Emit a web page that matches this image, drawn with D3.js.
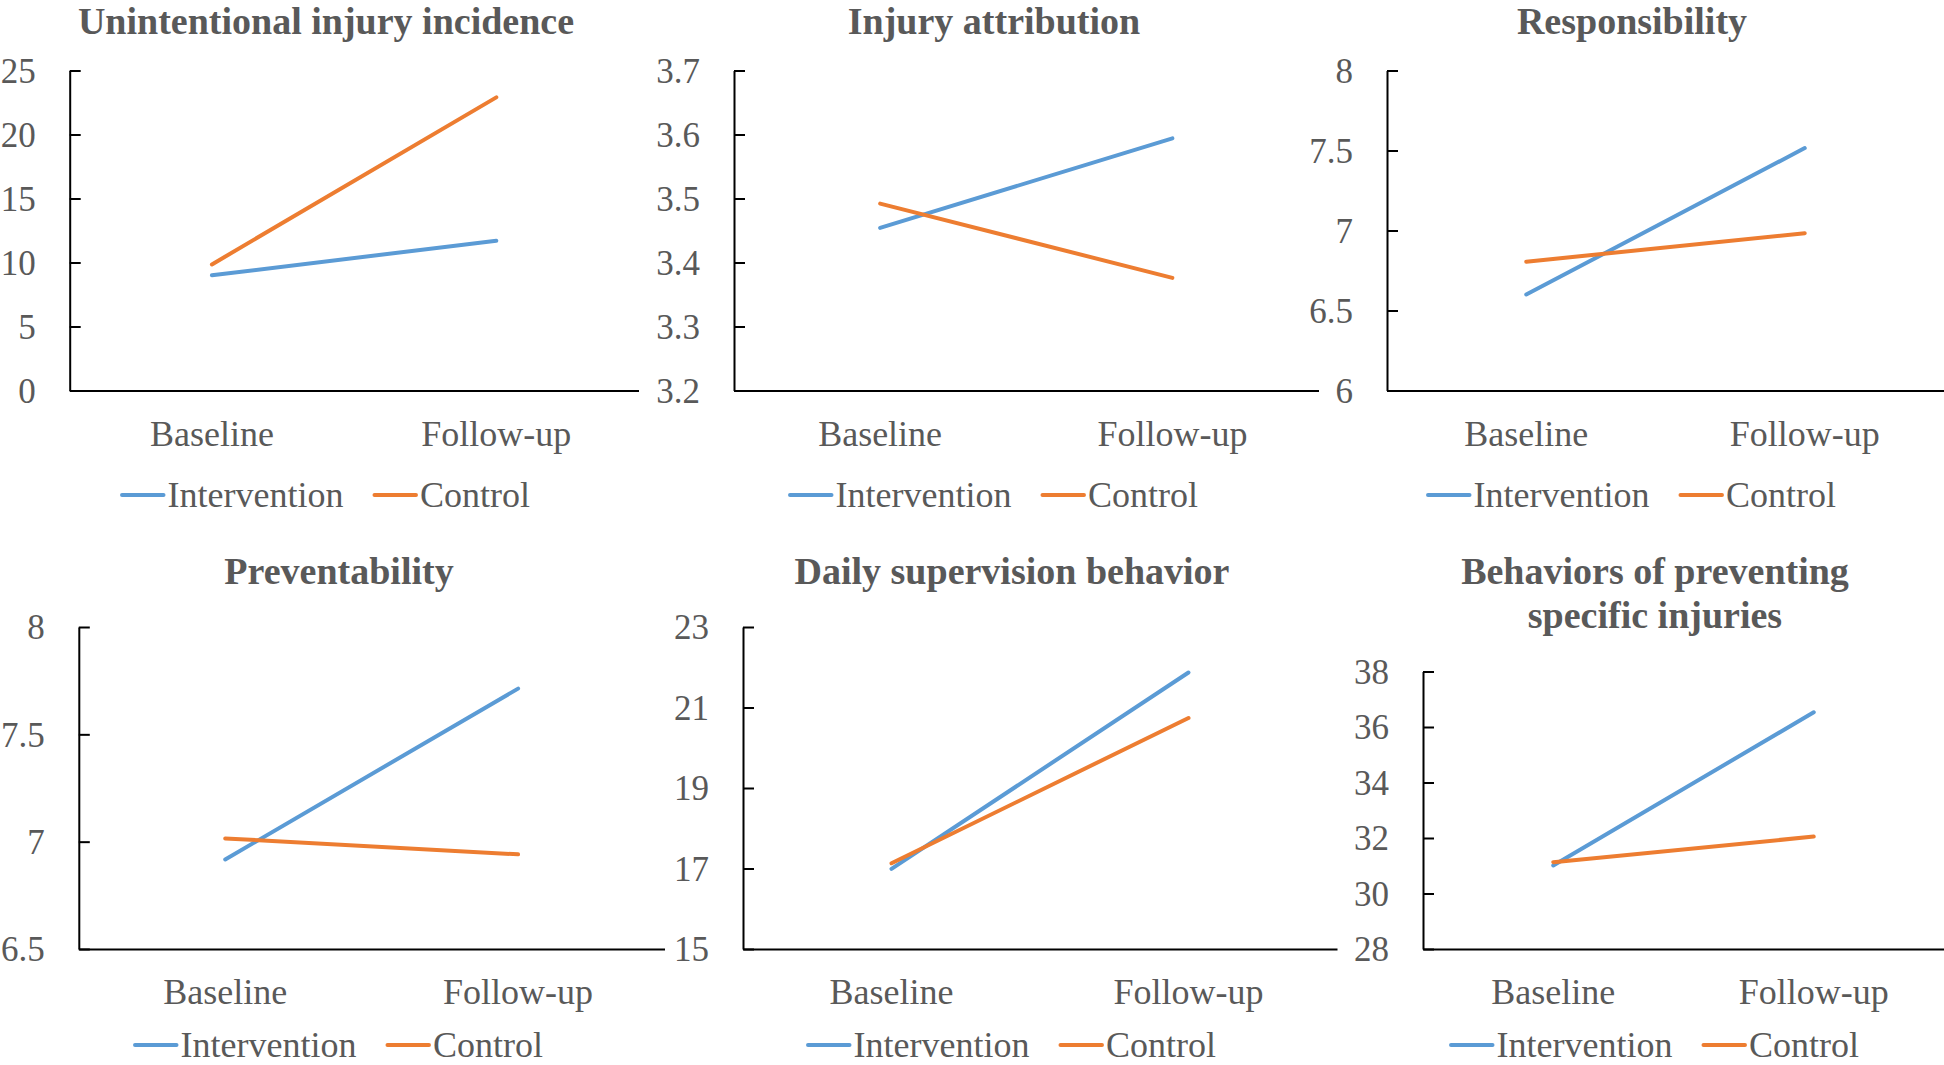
<!DOCTYPE html>
<html>
<head>
<meta charset="utf-8">
<script src="https://cdn.jsdelivr.net/npm/d3@7"></script>
<style>
  html, body { margin: 0; padding: 0; background: #ffffff; }
  svg { display: block; }
</style>
</head>
<body>
<svg id="chart" width="1944" height="1065"></svg>
<script>
// ---------------- DATA ----------------
const categories = ["Baseline", "Follow-up"];
const seriesNames = ["Intervention", "Control"];

const titles = [
  ["Unintentional injury incidence"],
  ["Injury attribution"],
  ["Responsibility"],
  ["Preventability"],
  ["Daily supervision behavior"],
  ["Behaviors of preventing", "specific injuries"]
];

const incidenceIntervention = [9.0, 11.7];
const incidenceControl      = [9.85, 22.9];
const incidenceTicks        = [0, 5, 10, 15, 20, 25];

const attributionIntervention = [3.454, 3.594];
const attributionControl      = [3.492, 3.376];
const attributionTicks        = [3.2, 3.3, 3.4, 3.5, 3.6, 3.7];

const responsibilityIntervention = [6.6, 7.515];
const responsibilityControl      = [6.805, 6.983];
const responsibilityTicks        = [6, 6.5, 7, 7.5, 8];

const preventabilityIntervention = [6.917, 7.713];
const preventabilityControl      = [7.015, 6.941];
const preventabilityTicks        = [6.5, 7, 7.5, 8];

const supervisionIntervention = [16.99, 21.87];
const supervisionControl      = [17.13, 20.74];
const supervisionTicks        = [15, 17, 19, 21, 23];

const specificIntervention = [31.01, 36.53];
const specificControl      = [31.13, 32.05];
const specificTicks        = [28, 30, 32, 34, 36, 38];

// ---------------- LAYOUT ----------------
const colors = ["#5B9BD5", "#ED7D31"];
const textColor = "#595959";
const fontFamily = "'Liberation Serif', 'Times New Roman', serif";

const panels = [
  { title: titles[0], values: [incidenceIntervention, incidenceControl], ticks: incidenceTicks,
    x0: 69.7, x1: 638.5, yTop: 70.5, yBot: 390.5, cx: 326, titleY: 34, legOff: 104.5 },
  { title: titles[1], values: [attributionIntervention, attributionControl], ticks: attributionTicks,
    x0: 734, x1: 1318.5, yTop: 70.5, yBot: 390.5, cx: 994, titleY: 34, legOff: 104.5 },
  { title: titles[2], values: [responsibilityIntervention, responsibilityControl], ticks: responsibilityTicks,
    x0: 1387, x1: 1944, yTop: 70.5, yBot: 390.5, cx: 1632, titleY: 34, legOff: 104.5 },
  { title: titles[3], values: [preventabilityIntervention, preventabilityControl], ticks: preventabilityTicks,
    x0: 78.8, x1: 664.5, yTop: 627, yBot: 949, cx: 339, titleY: 584, legOff: 96 },
  { title: titles[4], values: [supervisionIntervention, supervisionControl], ticks: supervisionTicks,
    x0: 743, x1: 1337, yTop: 627, yBot: 949, cx: 1012, titleY: 584, legOff: 96 },
  { title: titles[5], values: [specificIntervention, specificControl], ticks: specificTicks,
    x0: 1423, x1: 1944, yTop: 671.5, yBot: 949, cx: 1655, titleY: 584, legOff: 96 }
];

const svg = d3.select("#chart");

panels.forEach(p => {
  const g = svg.append("g");

  const x = d3.scaleBand().domain(categories).range([p.x0, p.x1]).paddingInner(0).paddingOuter(0);
  const y = d3.scaleLinear().domain([d3.min(p.ticks), d3.max(p.ticks)]).range([p.yBot, p.yTop]);

  // Y axis (inside ticks to the right)
  const yAxis = d3.axisLeft(y)
    .tickValues(p.ticks)
    .tickFormat(d => String(d))
    .tickSizeInner(-11)
    .tickSizeOuter(0)
    .tickPadding(34);
  const yg = g.append("g").attr("transform", `translate(${p.x0},0)`).call(yAxis);
  yg.select(".domain").attr("stroke", "#000").attr("stroke-width", 2);
  yg.selectAll(".tick line").attr("stroke", "#000").attr("stroke-width", 2);
  yg.selectAll(".tick text")
    .attr("fill", textColor)
    .attr("font-family", fontFamily)
    .attr("font-size", 35)
    .attr("dy", "0.34em");

  // X axis
  const xAxis = d3.axisBottom(x).tickSize(0).tickSizeOuter(0);
  const xg = g.append("g").attr("transform", `translate(0,${p.yBot})`).call(xAxis);
  xg.select(".domain").attr("stroke", "#000").attr("stroke-width", 2);
  xg.selectAll(".tick text")
    .attr("fill", textColor)
    .attr("font-family", fontFamily)
    .attr("font-size", 36)
    .attr("y", 55)
    .attr("dy", 0);

  // Lines
  const line = d3.line()
    .x((d, i) => x(categories[i]) + x.bandwidth() / 2)
    .y(d => y(d));
  p.values.forEach((vals, si) => {
    g.append("path")
      .datum(vals)
      .attr("d", line)
      .attr("fill", "none")
      .attr("stroke", colors[si])
      .attr("stroke-width", 4)
      .attr("stroke-linecap", "round");
  });

  // Title
  const t = g.append("text")
    .attr("x", p.cx)
    .attr("y", p.titleY)
    .attr("text-anchor", "middle")
    .attr("font-family", fontFamily)
    .attr("font-weight", "bold")
    .attr("font-size", 38)
    .attr("fill", textColor);
  p.title.forEach((ln, i) => {
    t.append("tspan").attr("x", p.cx).attr("dy", i === 0 ? 0 : 44).text(ln);
  });

  // Legend
  const legY = p.yBot + p.legOff;
  const lg = g.append("g");
  let cursor = 0;
  seriesNames.forEach((name, si) => {
    const ig = lg.append("g");
    ig.append("line")
      .attr("x1", cursor).attr("x2", cursor + 41.5)
      .attr("y1", legY).attr("y2", legY)
      .attr("stroke", colors[si]).attr("stroke-width", 4).attr("stroke-linecap", "round");
    const tx = ig.append("text")
      .attr("x", cursor + 45.5)
      .attr("y", legY + 12)
      .attr("font-family", fontFamily)
      .attr("font-size", 36)
      .attr("fill", textColor)
      .text(name);
    const w = tx.node().getComputedTextLength();
    cursor += 45.5 + w + 31;
  });
  const total = cursor - 31;
  lg.attr("transform", `translate(${p.cx - total / 2},0)`);
});
</script>
</body>
</html>
